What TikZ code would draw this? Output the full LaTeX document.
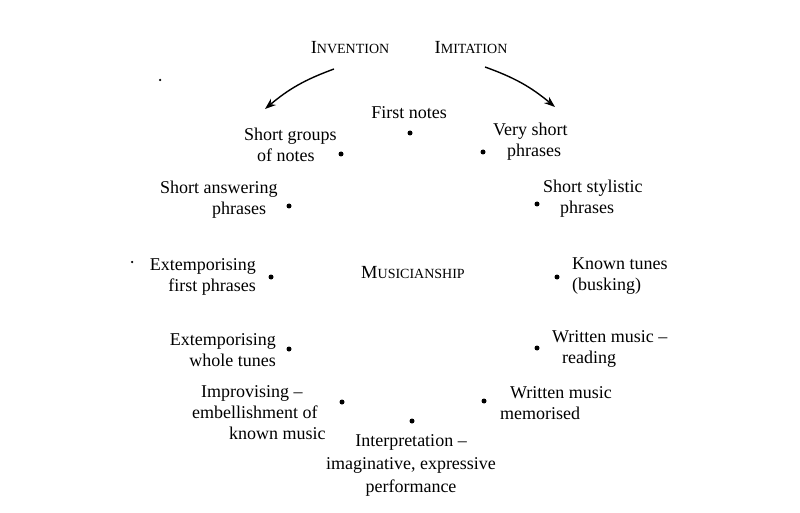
\documentclass[tikz,border=0pt]{standalone}
\usepackage{fontspec}
\setmainfont{Liberation Serif}
\usetikzlibrary{arrows.meta}
\newcommand{\fsc}[2]{{\fontsize{18.5}{20}\selectfont #1}{\fontsize{14}{20}\selectfont #2}}
\tikzset{
  lbl/.style={inner sep=0pt, font=\fontsize{18}{21}\selectfont, align=center},
  lft/.style={lbl, align=left, anchor=west},
  pt/.style={circle, fill=black, inner sep=0pt, minimum size=5pt},
  speck/.style={circle, fill=black, inner sep=0pt, minimum size=2.5pt},
  arr/.style={line width=1.4pt, -{Stealth[length=11pt,width=8pt]}}
}
\begin{document}
\begin{tikzpicture}[x=1pt,y=-1pt]
\useasboundingbox (0,0) rectangle (800,513);
% headings
\node[lbl] (inv) at (350,48) {\fsc{I}{NVENTION}};
\node[lbl] (imi) at (471,48) {\fsc{I}{MITATION}};
\node[lbl] (mus) at (413,273) {\fsc{M}{USICIANSHIP}};
% arrows
\coordinate (a1s) at (334,69);
\coordinate (a1e) at (265,109);
\coordinate (a2s) at (485,67);
\coordinate (a2e) at (555,107);
\draw[arr] (a1s) to[bend right=10] (a1e);
\draw[arr] (a2s) to[bend left=10] (a2e);
% dots
\node[pt] (d1) at (410,133) {};
\node[pt] (d2) at (341,154) {};
\node[pt] (d3) at (483,152) {};
\node[pt] (d4) at (289,206) {};
\node[pt] (d5) at (537,204) {};
\node[pt] (d6) at (271,277) {};
\node[pt] (d7) at (557,277) {};
\node[pt] (d8) at (289,349) {};
\node[pt] (d9) at (537,348) {};
\node[pt] (d10) at (342,402) {};
\node[pt] (d11) at (484,401) {};
\node[pt] (d12) at (412,421) {};
\node[speck] (s1) at (160,80) {};
\node[speck] (s2) at (132,262) {};
% labels
\node[lbl] (t1) at (409,113) {First notes};
\node[lft] (t2) at (244,145) {Short groups\\\hspace*{13pt}of notes};
\node[lft] (t3) at (493,142) {Very short\\\hspace*{14pt}phrases};
\node[lft] (t4) at (160,200) {Short answering\\\hspace*{52pt}phrases};
\node[lft] (t5) at (543,199) {Short stylistic\\\hspace*{17pt}phrases};
\node[lbl, align=right, anchor=east] (t6) at (256,277) {Extemporising\\first phrases};
\node[lft] (t7) at (572,276) {Known tunes\\(busking)};
\node[lbl, align=right, anchor=east] (t8) at (276,350) {Extemporising\\whole tunes};
\node[lft] (t9) at (552,349) {Written music --\\\hspace*{10pt}reading};
\node[lft] (t10) at (192,413) {\hspace*{9pt}Improvising --\\embellishment of\\\hspace*{37pt}known music};
\node[lft] (t11) at (500,403) {\hspace*{10pt}Written music\\memorised};
\node[lbl, font=\fontsize{18}{23}\selectfont] (t12) at (411,465) {Interpretation --\\imaginative, expressive\\performance};
\end{tikzpicture}
\end{document}
